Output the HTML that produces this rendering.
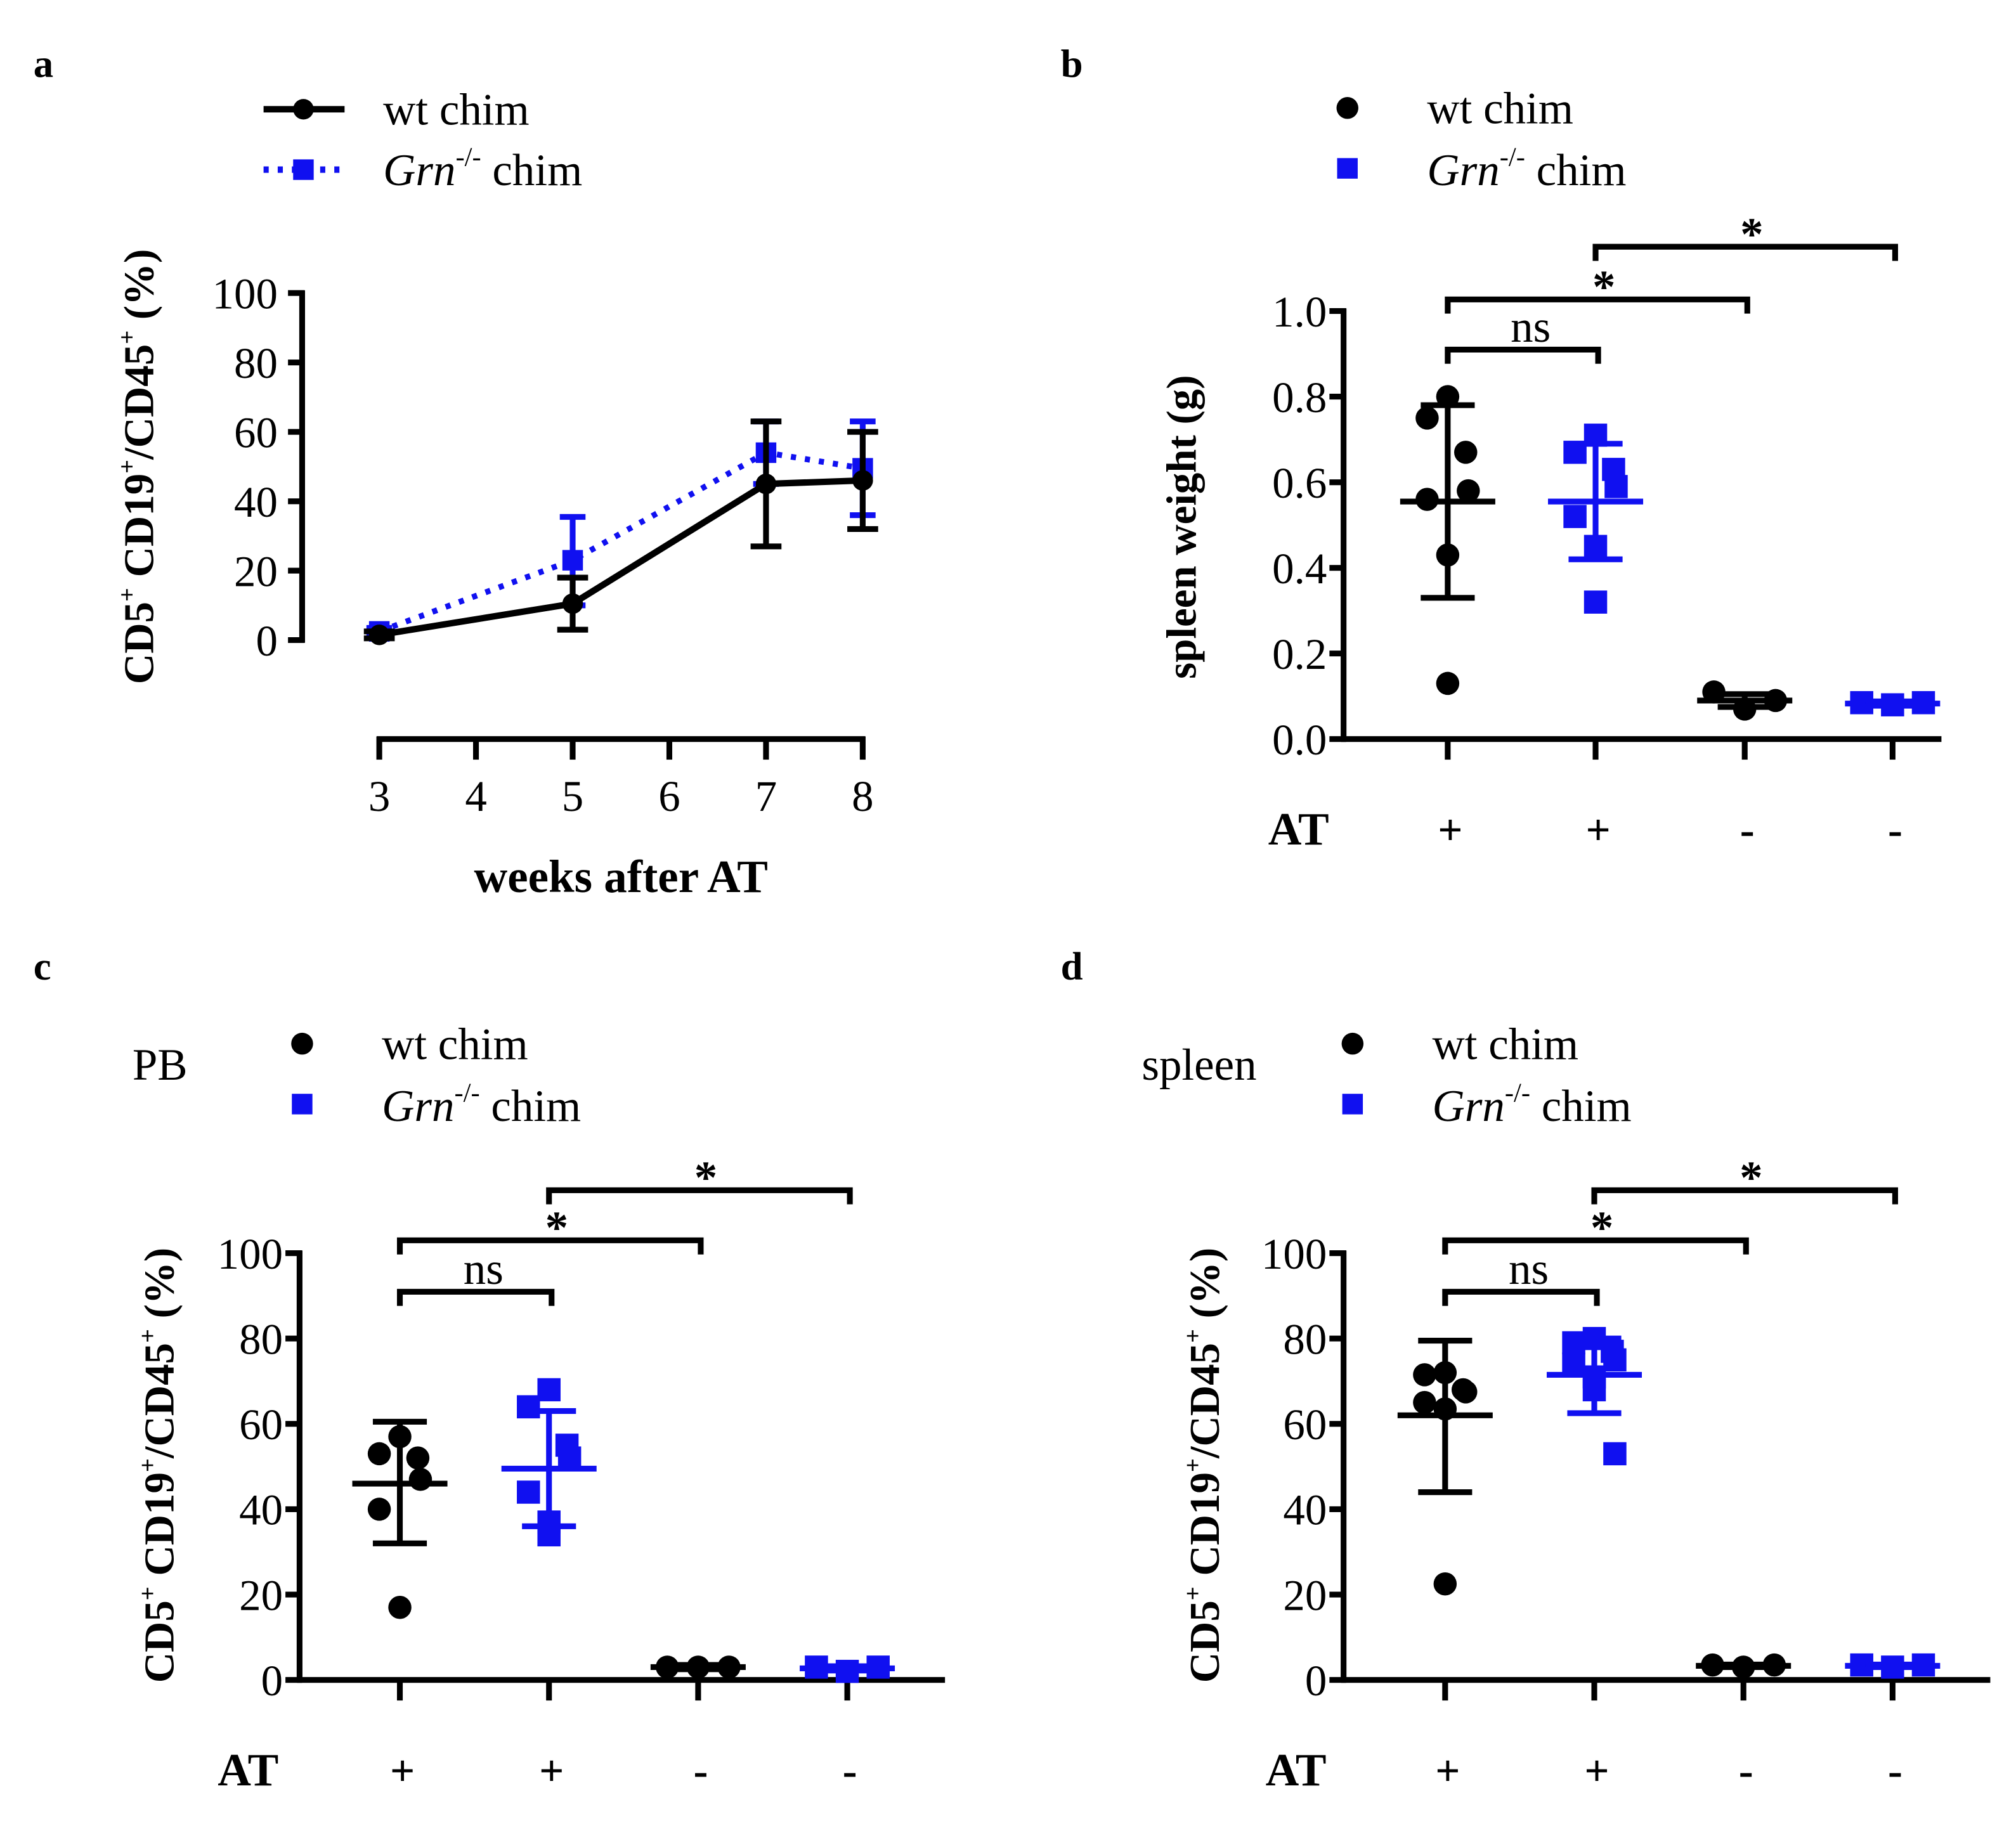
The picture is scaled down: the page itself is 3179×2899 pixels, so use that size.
<!DOCTYPE html>
<html><head><meta charset="utf-8"><style>
html,body{margin:0;padding:0;background:#fff;}
svg{display:block;}
text{font-family:"Liberation Serif",serif;fill:#000;}
</style></head><body>
<svg id="fig" width="3179" height="2899" viewBox="0 0 1568 1430" preserveAspectRatio="none" xmlns="http://www.w3.org/2000/svg">
<rect width="1568" height="1430" fill="#fff"/>
<text x="26" y="60" font-size="31" font-weight="bold">a</text>
<text x="825" y="60" font-size="31" font-weight="bold">b</text>
<text x="26" y="762" font-size="31" font-weight="bold">c</text>
<text x="825" y="762" font-size="31" font-weight="bold">d</text>

<g>
<line x1="205" y1="85" x2="268" y2="85" stroke="#000" stroke-width="5"/>
<circle cx="236" cy="85" r="8" fill="#000"/>
<text x="298" y="97" font-size="35">wt chim</text>
<line x1="205" y1="132" x2="268" y2="132" stroke="#1010f0" stroke-width="5" stroke-dasharray="4,7"/>
<rect x="228" y="124" width="16" height="16" fill="#1010f0"/>
<text x="298" y="144" font-size="35"><tspan font-style="italic">Grn</tspan><tspan font-size="21" dy="-15">-/-</tspan><tspan dy="15"> chim</tspan></text>
</g>
<text x="483" y="694" font-size="36" font-weight="bold" text-anchor="middle">weeks after AT</text>
<g id="pa"></g><g id="pb"></g><g id="pc"></g><g id="pd"></g>
</svg>
<script>
// ---------- Panel a data ----------
const weeks = [3, 5, 7, 8];
const wtMean = [1.5, 10.5, 45, 46];
const wtLow = [0.5, 3, 27, 32];
const wtHigh = [2.5, 18, 63, 60];
const grnMean = [2.5, 23, 54, 49.5];
const grnLow = [1.5, 10, 45, 36];
const grnHigh = [3.5, 35.5, 63, 63];
const ticksA = [0, 20, 40, 60, 80, 100];
const xTicksA = [3, 4, 5, 6, 7, 8];

// ---------- Panel b data ----------
const bWt = [0.80, 0.75, 0.67, 0.58, 0.56, 0.43, 0.13];
const bGrn = [0.71, 0.67, 0.63, 0.59, 0.52, 0.45, 0.32];
const bWtNo = [0.11, 0.07, 0.09];
const bGrnNo = [0.085, 0.08, 0.085];
const bMean = [0.555, 0.555, 0.09, 0.083];
const bSdLow = [0.33, 0.42, 0.075, 0.078];
const bSdHigh = [0.78, 0.69, 0.105, 0.088];
const ticksB = [0.0, 0.2, 0.4, 0.6, 0.8, 1.0];

// ---------- Panel c data ----------
const cWt = [57, 53, 52, 47, 40, 17];
const cGrn = [68, 64, 55, 52, 44, 37, 34];
const cWtNo = [3, 3, 3];
const cGrnNo = [3, 2, 3];
const cMean = [46, 49.5, 3, 2.7];
const cSdLow = [32, 36, 2.5, 2.2];
const cSdHigh = [60.5, 63, 3.5, 3.2];

// ---------- Panel d data ----------
const dWt = [72, 71.5, 68, 67.5, 65, 63.5, 22.5];
const dGrn = [80, 79, 77, 75, 74, 71, 68, 53];
const dWtNo = [3.5, 3, 3.5];
const dGrnNo = [3.5, 3, 3.5];
const dMean = [62, 71.5, 3.3, 3.3];
const dSdLow = [44, 62.5, 3, 3];
const dSdHigh = [79.5, 80, 3.6, 3.6];
const ticksPct = [0, 20, 40, 60, 80, 100];
const atLabels = ['+', '+', '-', '-'];

const NS = 'http://www.w3.org/2000/svg';
const BLUE = '#1010f0';
function mk(parent, tag, attrs, txt) {
  const e = document.createElementNS(NS, tag);
  for (const k in attrs) e.setAttribute(k, attrs[k]);
  if (txt !== undefined) e.textContent = txt;
  parent.appendChild(e);
  return e;
}
function line(p, x1, y1, x2, y2, c, w) {
  return mk(p, 'line', {x1: x1, y1: y1, x2: x2, y2: y2, stroke: c || '#000', 'stroke-width': w || 4.5});
}
const SUP = '<tspan font-size="19" dy="-14">+</tspan>';
const pctTitle = 'CD5' + SUP + '<tspan dy="14"> CD19</tspan>' + SUP + '<tspan dy="14">/CD45</tspan>' + SUP + '<tspan dy="14"> (%)</tspan>';

// ---------- Panel a ----------
(function () {
  const g = document.getElementById('pa');
  const y = v => 498 - (v / 100) * 270;
  const x = w => 295 + (w - 3) * 75.2;
  const ax = line(g, 235, 226, 235, 500);
  
  
  ticksA.forEach(t => {
    line(g, 224, y(t), 237, y(t));
    const tl = mk(g, 'text', {x: 216, y: y(t) + 12, 'font-size': 34, 'text-anchor': 'end'}, t);
    
    
  });
  const xa = line(g, 293, 575, 673, 575);
  
  
  xTicksA.forEach(w => {
    line(g, x(w), 573, x(w), 591);
    const tl = mk(g, 'text', {x: x(w), y: 631, 'font-size': 34, 'text-anchor': 'middle'}, w);
    
    
  });
  const yt = mk(g, 'text', {x: 0, y: 0, 'font-size': 33, 'font-weight': 'bold', 'text-anchor': 'middle', transform: 'translate(119,363) rotate(-90)'});
  yt.innerHTML = pctTitle;
  
  
  const gp = weeks.map((w, i) => x(w) + ',' + y(grnMean[i])).join(' ');
  const gl = mk(g, 'polyline', {points: gp, fill: 'none', stroke: BLUE, 'stroke-width': 4.5, 'stroke-dasharray': '4,7'});
  
  
  weeks.forEach((w, i) => {
    line(g, x(w), y(grnLow[i]), x(w), y(grnHigh[i]), BLUE);
    line(g, x(w) - 10, y(grnHigh[i]), x(w) + 10, y(grnHigh[i]), BLUE);
    line(g, x(w) - 10, y(grnLow[i]), x(w) + 10, y(grnLow[i]), BLUE);
    const m = mk(g, 'rect', {x: x(w) - 8, y: y(grnMean[i]) - 8, width: 16, height: 16, fill: BLUE});
    
    
  });
  const wp = weeks.map((w, i) => x(w) + ',' + y(wtMean[i])).join(' ');
  const wl = mk(g, 'polyline', {points: wp, fill: 'none', stroke: '#000', 'stroke-width': 5});
  
  
  weeks.forEach((w, i) => {
    line(g, x(w), y(wtLow[i]), x(w), y(wtHigh[i]));
    line(g, x(w) - 12, y(wtHigh[i]), x(w) + 12, y(wtHigh[i]));
    line(g, x(w) - 12, y(wtLow[i]), x(w) + 12, y(wtLow[i]));
    const m = mk(g, 'circle', {cx: x(w), cy: y(wtMean[i]), r: 8, fill: '#000'});
    
    
  });
})();

// ---------- Scatter panels ----------
const JIT = [0, -16, 14, 16, -16, 0, 0, 16, -16];
const JIT3 = [-24, 0, 24];
function scatterPanel(id, cfg) {
  const g = document.getElementById(id);
  const y0 = cfg.y0, y1 = cfg.y1, ax = cfg.axisX;
  const y = v => y0 - (v - cfg.min) / (cfg.max - cfg.min) * (y0 - y1);
  const cx = cfg.cats;
  const a = line(g, ax, y1 - 2, ax, y0 + 2);
  
  
  cfg.ticks.forEach(t => {
    line(g, ax - 11, y(t), ax + 2, y(t));
    const tl = mk(g, 'text', {x: ax - 13, y: y(t) + 12, 'font-size': 34, 'text-anchor': 'end'}, cfg.fmt(t));
    
    
  });
  const xa = line(g, ax - 2, y0, cfg.xEnd, y0);
  
  
  cx.forEach((c, i) => {
    line(g, c, y0, c, y0 + 16);
    const t = mk(g, 'text', {x: c + 2, y: y0 + 82, 'font-size': 34, 'font-weight': 'bold', 'text-anchor': 'middle'}, atLabels[i]);
    
    
  });
  const at = mk(g, 'text', {x: cfg.atX, y: y0 + 82, 'font-size': 36, 'font-weight': 'bold', 'text-anchor': 'middle'}, 'AT');
  
  
  const yt = mk(g, 'text', {x: 0, y: 0, 'font-size': 33, 'font-weight': 'bold', 'text-anchor': 'middle', transform: 'translate(' + cfg.titleX + ',' + cfg.titleY + ') rotate(-90)'});
  yt.innerHTML = cfg.title;
  
  
  const groups = [cfg.wt, cfg.grn, cfg.wtNo, cfg.grnNo];
  groups.forEach((vals, gi) => {
    const col = gi % 2 === 0 ? '#000' : BLUE;
    const jit = gi < 2 ? JIT : JIT3;
    vals.forEach((v, i) => {
      const px = cx[gi] + jit[i % jit.length];
      let m;
      if (gi % 2 === 0) m = mk(g, 'circle', {cx: px, cy: y(v), r: 9, fill: col});
      else m = mk(g, 'rect', {x: px - 9, y: y(v) - 9, width: 18, height: 18, fill: col});
      
      
    });
    const c = cx[gi];
    const mw = 37;
    line(g, c - mw, y(cfg.mean[gi]), c + mw, y(cfg.mean[gi]), col);
    line(g, c, y(cfg.lo[gi]), c, y(cfg.hi[gi]), col);
    line(g, c - 21, y(cfg.hi[gi]), c + 21, y(cfg.hi[gi]), col);
    line(g, c - 21, y(cfg.lo[gi]), c + 21, y(cfg.lo[gi]), col);
  });
  const br = [[0, 1, cfg.br[0], 'ns'], [0, 2, cfg.br[1], '*'], [1, 3, cfg.br[2], '*']];
  br.forEach(b => {
    const xa1 = cx[b[0]], xa2 = cx[b[1]] + 2, yy = b[2];
    const p = mk(g, 'path', {d: 'M' + xa1 + ' ' + (yy + 11) + 'V' + yy + 'H' + xa2 + 'V' + (yy + 11), fill: 'none', stroke: '#000', 'stroke-width': 4.5});
    
    
    const isNs = b[3] === 'ns';
    const t = mk(g, 'text', {x: (xa1 + xa2) / 2 + (isNs ? 6 : 5), y: isNs ? yy - 6 : yy + 2, 'font-size': isNs ? 35 : 36, 'font-weight': isNs ? 'normal' : 'bold', 'text-anchor': 'middle'}, b[3]);
    
    
  });
  const lg = mk(g, 'g', {});
  
  
  mk(lg, 'circle', {cx: cfg.legX, cy: cfg.legY, r: 8.5, fill: '#000'});
  const e1 = mk(lg, 'text', {x: cfg.legTX, y: cfg.legY + 12, 'font-size': 35}, 'wt chim');
  
  
  mk(lg, 'rect', {x: cfg.legX - 8, y: cfg.legY + 39, width: 16, height: 16, fill: BLUE});
  const e2 = mk(lg, 'text', {x: cfg.legTX, y: cfg.legY + 60, 'font-size': 35});
  e2.innerHTML = '<tspan font-style="italic">Grn</tspan><tspan font-size="21" dy="-15">-/-</tspan><tspan dy="15"> chim</tspan>';
  
  
  if (cfg.tag) {
    const tg = mk(g, 'text', {x: cfg.tagX, y: cfg.legY + 28, 'font-size': 35}, cfg.tag);
    
    
  }
}
scatterPanel('pb', {y0: 575, y1: 242, min: 0, max: 1, axisX: 1045, xEnd: 1510, cats: [1126, 1241, 1357, 1472],
  ticks: ticksB, fmt: t => t.toFixed(1), atX: 1010, titleX: 930, titleY: 410, title: 'spleen weight (g)',
  wt: bWt, grn: bGrn, wtNo: bWtNo, grnNo: bGrnNo, mean: bMean, lo: bSdLow, hi: bSdHigh,
  br: [272, 233, 192], legX: 1048, legY: 84, legTX: 1110});
scatterPanel('pc', {y0: 1307, y1: 975, min: 0, max: 100, axisX: 233, xEnd: 735, cats: [311, 427, 543, 659],
  ticks: ticksPct, fmt: t => t, atX: 193, titleX: 135, titleY: 1140, title: pctTitle,
  wt: cWt, grn: cGrn, wtNo: cWtNo, grnNo: cGrnNo, mean: cMean, lo: cSdLow, hi: cSdHigh,
  br: [1005, 965, 926], legX: 235, legY: 812, legTX: 297, tag: 'PB', tagX: 103});
scatterPanel('pd', {y0: 1307, y1: 975, min: 0, max: 100, axisX: 1045, xEnd: 1548, cats: [1124, 1240, 1356, 1472],
  ticks: ticksPct, fmt: t => t, atX: 1008, titleX: 948, titleY: 1140, title: pctTitle,
  wt: dWt, grn: dGrn, wtNo: dWtNo, grnNo: dGrnNo, mean: dMean, lo: dSdLow, hi: dSdHigh,
  br: [1005, 965, 926], legX: 1052, legY: 812, legTX: 1114, tag: 'spleen', tagX: 888});
</script>
</body></html>
